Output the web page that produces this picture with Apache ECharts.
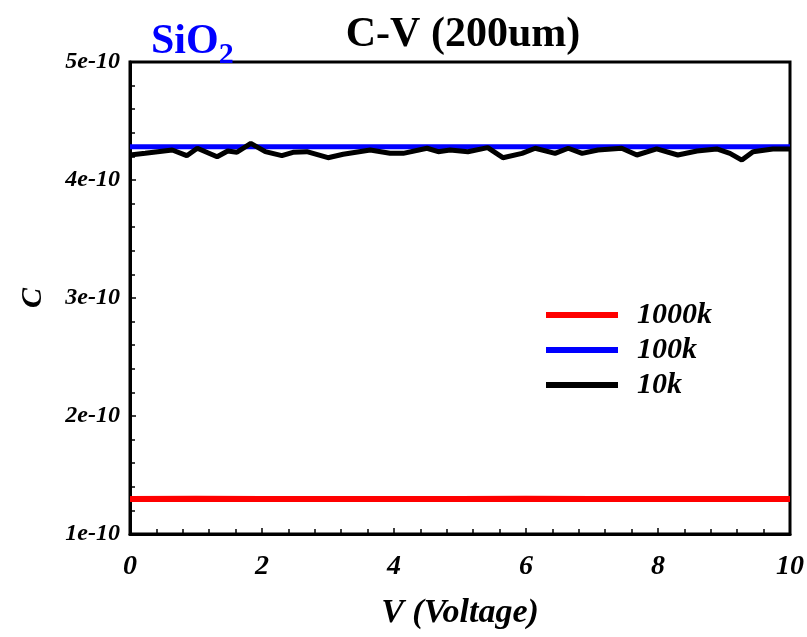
<!DOCTYPE html>
<html>
<head>
<meta charset="utf-8">
<script src="https://cdn.jsdelivr.net/npm/echarts@6/dist/echarts.min.js"></script>
<style>html,body{margin:0;padding:0;background:#fff}#c{width:807px;height:637px}</style>
</head>
<body>
<div id="c"></div>
<script>
// Data (C in farads)
const seriesNames = ['1000k', '100k', '10k'];
const seriesColors = ['#ff0000', '#0000ff', '#000000'];
const v1000k = [0, 1, 2, 3, 4, 5, 6, 7, 8, 9, 10];
const c1000k = [1.297e-10, 1.298e-10, 1.297e-10, 1.296e-10, 1.297e-10, 1.297e-10, 1.298e-10, 1.297e-10, 1.297e-10, 1.297e-10, 1.297e-10];
const v100k = [0, 2, 4, 6, 8, 10];
const c100k = [4.282e-10, 4.282e-10, 4.282e-10, 4.282e-10, 4.282e-10, 4.282e-10];
const v10k = [0, 0.23, 0.64, 0.86, 1.02, 1.32, 1.48, 1.62, 1.83, 2.05, 2.30, 2.47, 2.68, 3.00, 3.23, 3.64, 3.94, 4.14, 4.50, 4.67, 4.85, 5.12, 5.42, 5.65, 5.94, 6.14, 6.44, 6.64, 6.85, 7.09, 7.45, 7.68, 7.98, 8.30, 8.59, 8.89, 9.09, 9.27, 9.44, 9.74, 10.0];
const c10k = [4.212, 4.226, 4.254, 4.206, 4.269, 4.197, 4.246, 4.235, 4.311, 4.240, 4.206, 4.235, 4.240, 4.189, 4.218, 4.254, 4.226, 4.226, 4.269, 4.240, 4.254, 4.240, 4.274, 4.189, 4.226, 4.269, 4.226, 4.269, 4.226, 4.254, 4.269, 4.212, 4.263, 4.212, 4.246, 4.263, 4.226, 4.169, 4.240, 4.263, 4.263].map(function (v) { return v * 1e-10; });
const yTicks = ['1e-10', '2e-10', '3e-10', '4e-10', '5e-10'];
const xTicks = ['0', '2', '4', '6', '8', '10'];

function pairs(xs, ys) { return xs.map(function (x, i) { return [x, ys[i]]; }); }

const serif = '"Liberation Serif", "Times New Roman", serif';
const chart = echarts.init(document.getElementById('c'), null, { renderer: 'canvas' });
chart.setOption({
  animation: false,
  backgroundColor: '#ffffff',
  title: [
    {
      text: 'C-V (200um)',
      left: 458, top: 9, textAlign: 'center',
      textStyle: { fontFamily: serif, fontWeight: 'bold', fontSize: 42, color: '#000' }
    },
    {
      text: '{a|SiO}{b|2}',
      left: 146, top: 9,
      textStyle: {
        rich: {
          a: { fontFamily: serif, fontWeight: 'bold', fontSize: 42, color: '#0000ff' },
          b: { fontFamily: serif, fontWeight: 'bold', fontSize: 30, color: '#0000ff', padding: [26, 0, 0, 0] }
        }
      }
    }
  ],
  legend: {
    orient: 'vertical',
    left: 541, top: 295,
    icon: 'rect',
    itemWidth: 72, itemHeight: 6, itemGap: 5,
    data: seriesNames,
    textStyle: { fontFamily: serif, fontStyle: 'italic', fontWeight: 'bold', fontSize: 30, lineHeight: 30, color: '#000', padding: [0, 0, 0, 14] }
  },
  grid: { left: 130, right: 17, top: 62, bottom: 103, show: true, borderColor: '#000', borderWidth: 3 },
  xAxis: {
    type: 'value', min: 0, max: 10, interval: 2,
    name: 'V (Voltage)', nameLocation: 'middle', nameGap: 62,
    nameTextStyle: { fontFamily: serif, fontStyle: 'italic', fontWeight: 'bold', fontSize: 34, color: '#000' },
    axisLine: { show: true, lineStyle: { color: '#000', width: 3 } },
    axisTick: { show: true, inside: true, length: 6, lineStyle: { color: '#000', width: 1.5 } },
    minorTick: { show: true, splitNumber: 5, length: 5, lineStyle: { color: '#000', width: 1.5 } },
    splitLine: { show: false },
    axisLabel: {
      margin: 19, fontFamily: serif, fontStyle: 'italic', fontWeight: 'bold', fontSize: 28, color: '#000',
      formatter: function (v) { return xTicks[Math.round(v / 2)]; }
    }
  },
  yAxis: {
    type: 'value', min: 1e-10, max: 5e-10, interval: 1e-10,
    name: 'C', nameLocation: 'middle', nameGap: 82,
    nameTextStyle: { fontFamily: serif, fontStyle: 'italic', fontWeight: 'bold', fontSize: 30, color: '#000' },
    axisLine: { show: true, lineStyle: { color: '#000', width: 3 } },
    axisTick: { show: true, inside: true, length: 6, lineStyle: { color: '#000', width: 1.5 } },
    minorTick: { show: true, splitNumber: 5, length: 5, lineStyle: { color: '#000', width: 1.5 } },
    splitLine: { show: false },
    axisLabel: {
      margin: 10, fontFamily: serif, fontStyle: 'italic', fontWeight: 'bold', fontSize: 24, color: '#000',
      formatter: function (v) { return yTicks[Math.round(v / 1e-10) - 1]; }
    }
  },
  series: [
    { name: seriesNames[0], type: 'line', data: pairs(v1000k, c1000k), symbol: 'none', color: seriesColors[0], lineStyle: { width: 6, color: seriesColors[0] }, z: 3 },
    { name: seriesNames[1], type: 'line', data: pairs(v100k, c100k), symbol: 'none', color: seriesColors[1], lineStyle: { width: 5, color: seriesColors[1] }, z: 3 },
    { name: seriesNames[2], type: 'line', data: pairs(v10k, c10k), symbol: 'none', color: seriesColors[2], lineStyle: { width: 5, color: seriesColors[2] }, z: 4 }
  ]
});
</script>
</body>
</html>
